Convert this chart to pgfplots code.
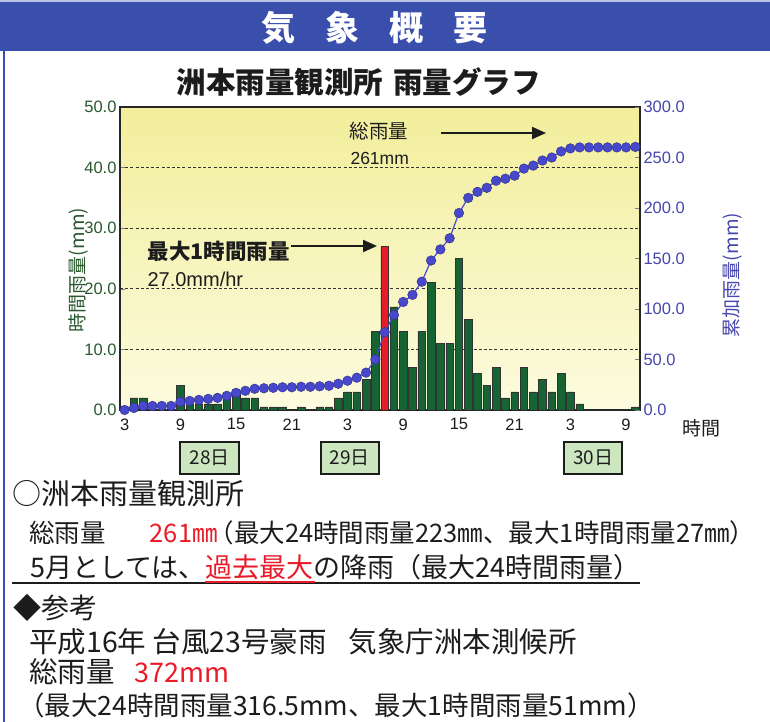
\documentclass[border=0pt]{standalone}
\usepackage{fontspec}
\setmainfont{Noto Sans CJK JP}
\newfontfamily\arial{Liberation Sans}
\usepackage{pgfplots}
\pgfplotsset{compat=1.18}
\usepackage{pgfplotstable}
\usetikzlibrary{arrows.meta}

\definecolor{banner}{RGB}{58,78,172}
\definecolor{bargreen}{RGB}{22,100,52}
\definecolor{lgreen}{RGB}{40,88,44}
\definecolor{lineblue}{RGB}{72,72,205}
\definecolor{rblue}{RGB}{70,70,175}
\definecolor{hired}{RGB}{232,28,40}
\definecolor{daybox}{RGB}{204,230,192}
\definecolor{ink}{RGB}{28,28,28}
\definecolor{ytop}{RGB}{242,238,155}
\definecolor{ybot}{RGB}{252,251,222}

% hour (from 28th 0h), hourly rain (mm), cumulative (mm)
\pgfplotstableread{
h r c
3 0 0
4 2 2
5 2 4
6 0 4
7 0 4
8 0 4
9 4 8
10 1 9
11 1 10
12 1 11
13 1 12
14 2 14
15 3 17
16 2 19
17 2 21
18 0.5 21.5
19 0.5 22
20 0.5 22.5
21 0 22.5
22 0.5 23
23 0 23
24 0.5 23.5
25 0.5 24
26 2 26
27 3 29
28 3 32
29 5 37
30 13 50
31 27 77
32 17 94
33 13 107
34 7 114
35 13 127
36 21 148
37 11 159
38 11 170
39 25 195
40 15 210
41 6 216
42 4 220
43 7 227
44 2 229
45 3 232
46 7 239
47 3 242
48 5 247
49 3 250
50 6 256
51 3 259
52 1 260
53 0 260
54 0 260
55 0 260
56 0 260
57 0 260
58 0.5 260.5
}\rain

\begin{document}
\begin{tikzpicture}
\useasboundingbox (0,0) rectangle (770bp,722bp);
\begin{scope}[x=1bp,y=-1bp,yshift=722bp]
  % banner
  \fill[banner] (0,2) rectangle (770,51);
  \draw[banner!35, line width=1.5bp] (0,1) -- (770,1);
  \draw[banner, line width=2.5bp] (4,51) -- (4,722);
  \node[text=white, font=\fontsize{34bp}{36bp}\selectfont\bfseries] at (375,28)
    {気\hspace{30bp}象\hspace{30bp}概\hspace{30bp}要};
  % chart title
  \node[text=ink, font=\fontsize{29.5bp}{32bp}\selectfont\bfseries] at (359,82)
    {洲本雨量観測所\hspace{10bp}雨量グラフ};
\end{scope}

\begin{axis}[
  at={(120bp,312bp)}, anchor=south west, scale only axis,
  width=520bp, height=303bp,
  xmin=2.5, xmax=58.5, ymin=0, ymax=50,
  xtick={3,9,...,57}, xticklabels={3,9,15,21,3,9,15,21,3,9},
  xtick style={draw=none}, xtick pos=bottom,
  ytick={0,10,...,50}, ytick pos=left,
  tick align=inside, major tick length=5bp,
  ymajorgrids,
  major grid style={dash pattern=on 3bp off 2.2bp, line width=1.1bp, black!80},
  axis line style={line width=2.2bp, black!85},
  axis background/.style={top color=ytop, bottom color=ybot},
  ybar, bar width=0.82, bar shift=0pt,
  tick label style={font=\arial\fontsize{16.5bp}{18bp}\selectfont},
  yticklabel style={lgreen, /pgf/number format/.cd, fixed, fixed zerofill, precision=1, assume math mode=true},
  xticklabel style={ink},
]
  \addplot[fill=bargreen, draw=black!80, line width=0.6bp] table[x=h,y=r]{\rain};
  \addplot[fill=hired, draw=black!80, line width=0.6bp] coordinates {(31,27)};
\end{axis}

\begin{axis}[
  at={(120bp,312bp)}, anchor=south west, scale only axis,
  width=520bp, height=303bp,
  xmin=2.5, xmax=58.5, ymin=0, ymax=300,
  axis x line=none, axis y line*=right,
  ytick={0,50,...,300},
  tick align=inside, major tick length=5bp,
  axis line style={line width=2.2bp, black!85},
  tick label style={font=\arial\fontsize{16.5bp}{18bp}\selectfont},
  yticklabel style={rblue, /pgf/number format/.cd, fixed, fixed zerofill, precision=1, assume math mode=true},
  clip=false,
]
  \addplot[lineblue, line width=1.2bp, mark=*, mark size=4.8bp,
    mark options={fill=lineblue, draw=lineblue!70!black, line width=0.5bp}]
    table[x=h,y=c]{\rain};
\end{axis}

\begin{scope}[x=1bp,y=-1bp,yshift=722bp]
  % axis titles
  \node[text=lgreen, rotate=90, font=\fontsize{19bp}{21bp}\selectfont] at (78,270) {時間雨量(mm)};
  \node[text=rblue, rotate=90, font=\fontsize{19bp}{21bp}\selectfont] at (733,275) {累加雨量(mm)};
  \node[text=ink, font=\fontsize{19bp}{21bp}\selectfont] at (701,428) {時間};
  % annotations
  \node[text=ink, anchor=west, font=\fontsize{19.5bp}{21bp}\selectfont] at (346,131) {総雨量};
  \node[text=ink, anchor=west, font=\arial\fontsize{17.5bp}{19bp}\selectfont] at (347,158) {261mm};
  \draw[ink, line width=2bp, -{Triangle[length=14bp,width=12bp]}] (441,133) -- (546,133);
  \node[text=ink, anchor=west, font=\fontsize{21.5bp}{23bp}\selectfont\bfseries] at (144,251) {最大1時間雨量};
  \node[text=ink, anchor=west, font=\arial\fontsize{20bp}{21bp}\selectfont] at (144,279) {27.0mm/hr};
  \draw[ink, line width=2bp, -{Triangle[length=14bp,width=12bp]}] (291,246) -- (377,246);
  % day boxes
  \foreach \cx/\d in {209.5/28, 349.7/29, 593.3/30}
    \node[draw=ink, line width=2bp, fill=daybox, minimum width=58bp, minimum height=32bp,
      font=\fontsize{19bp}{20bp}\selectfont, text=ink] at (\cx,458) {\d 日};
  % text below
  \begin{scope}[every node/.style={anchor=west, inner sep=0pt, text=ink}]
    \node[font=\fontsize{29bp}{31bp}\selectfont] at (12,494) {○洲本雨量観測所};
    \node[font=\fontsize{25.5bp}{30bp}\selectfont] at (29,533)
      {総雨量\hspace{44bp}\textcolor{hired}{261㎜}\kern-9bp（最大24時間雨量223㎜、最大1時間雨量27㎜）};
    \node[font=\fontsize{27bp}{30bp}\selectfont] at (30,567)
      {5月としては、\textcolor{hired}{過去最大}の降雨（最大24時間雨量）};
    \node[font=\fontsize{28bp}{30bp}\selectfont] at (13,608) {◆参考};
    \node[font=\fontsize{28.5bp}{30bp}\selectfont] at (29,642) {平成16年 台風23号豪雨\hspace{22bp}気象庁洲本測候所};
    \node[font=\fontsize{28.5bp}{30bp}\selectfont] at (29,672) {総雨量\hspace{20bp}\textcolor{hired}{\fontsize{27bp}{30bp}\selectfont 372mm}};
    \node[font=\fontsize{26.5bp}{30bp}\selectfont] at (18,705) {（最大24時間雨量316.5mm、最大1時間雨量51mm）};
  \end{scope}
  \draw[ink, line width=1.8bp] (12,583) -- (640,583);
  \draw[hired, line width=1.8bp] (205,582) -- (315,582);
\end{scope}
\end{tikzpicture}
\end{document}
